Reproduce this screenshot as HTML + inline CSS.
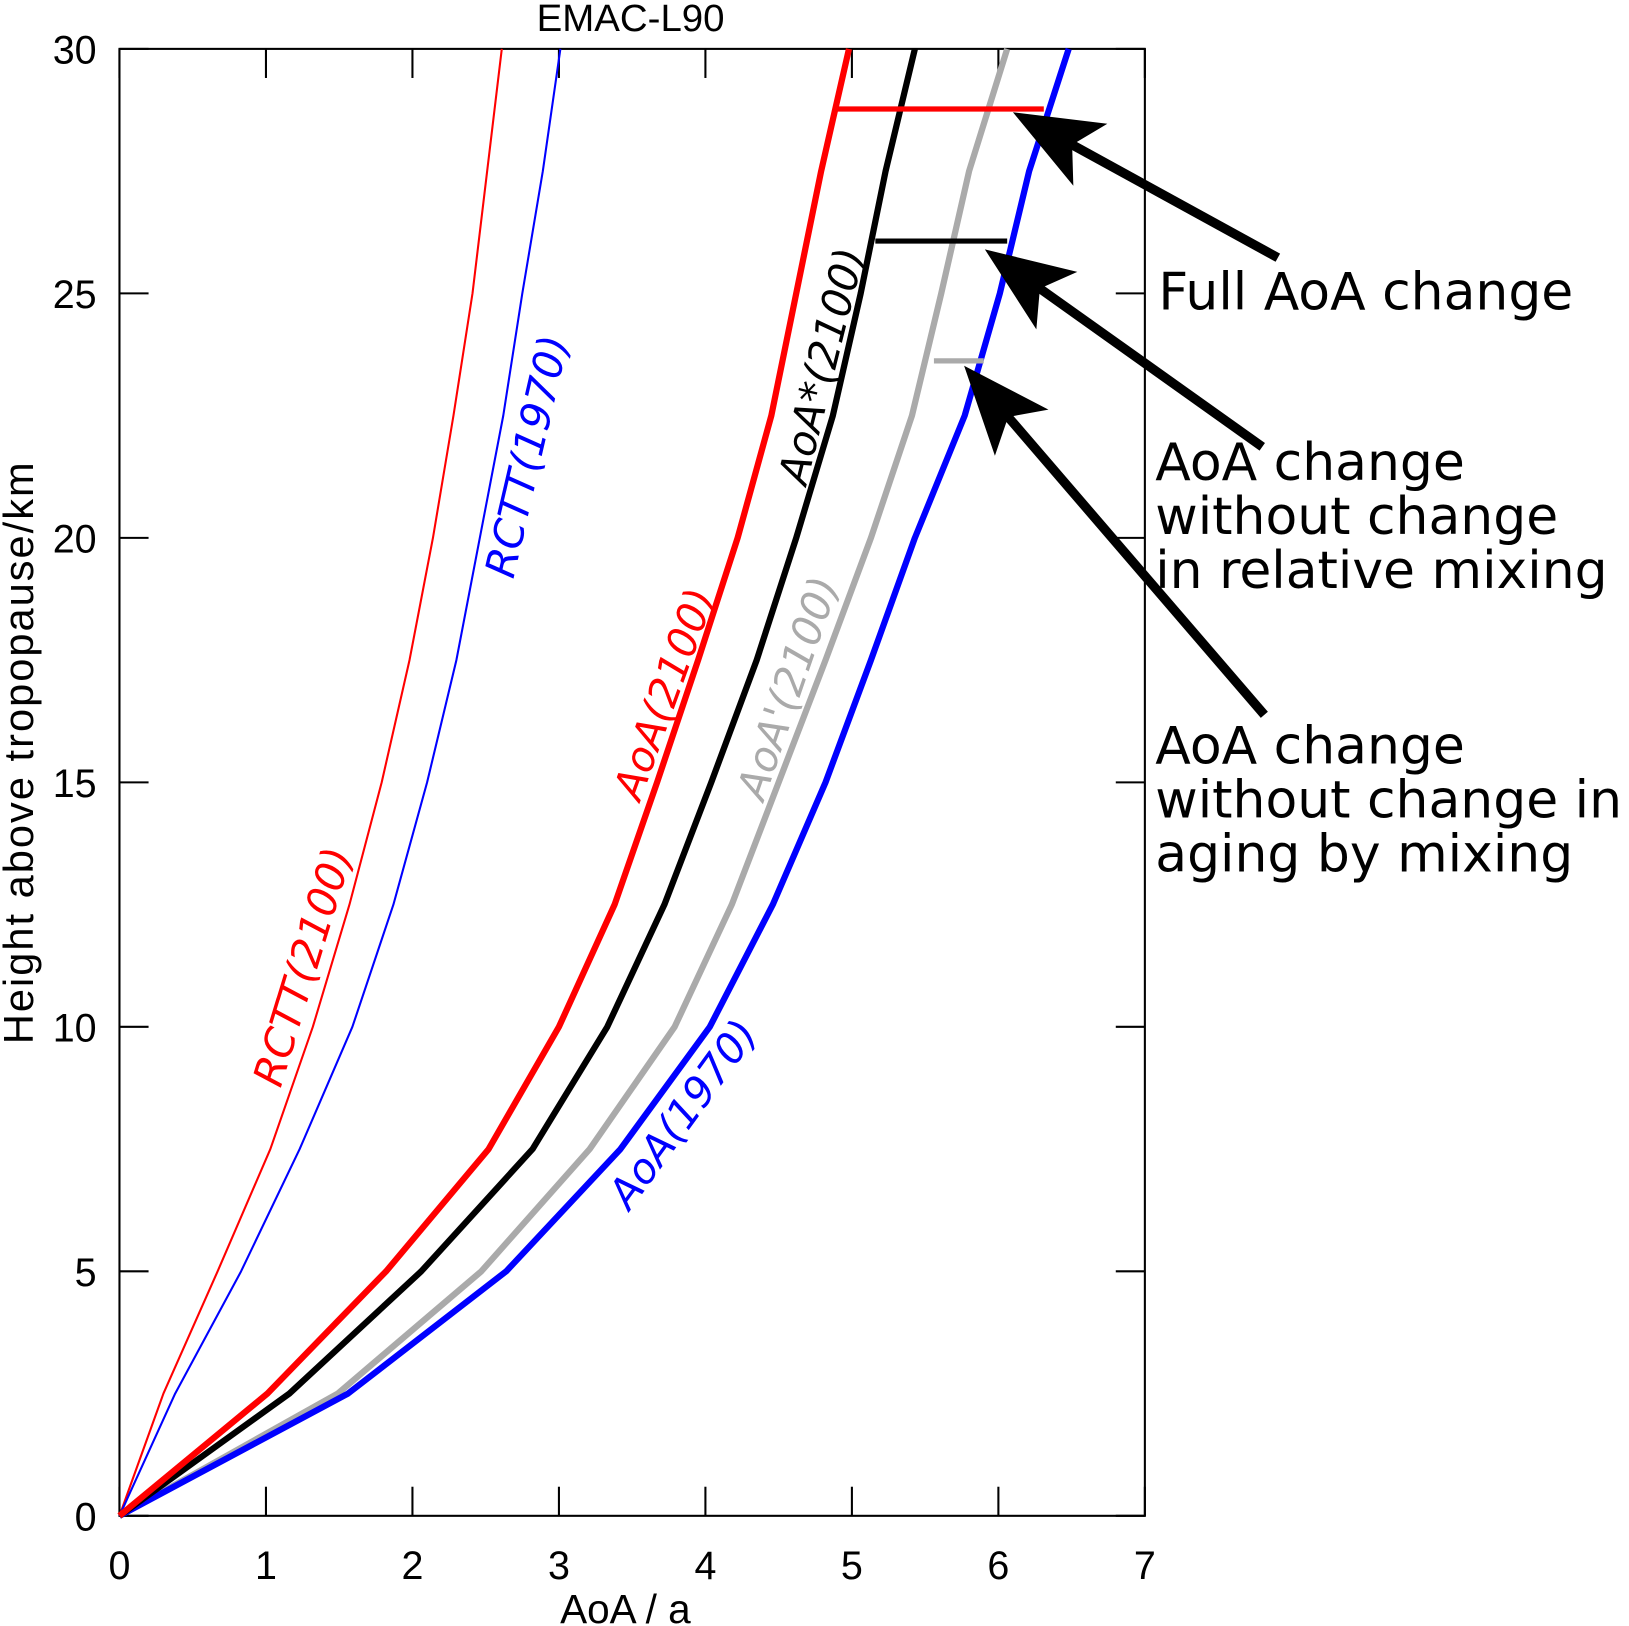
<!DOCTYPE html>
<html><head><meta charset="utf-8"><style>
html,body{margin:0;padding:0;background:#fff}
svg{display:block}
text{font-family:"Liberation Sans",sans-serif}
.dv text,text.dv{font-family:"DejaVu Sans","Liberation Sans",sans-serif}
</style></head><body>
<svg id="chart" width="1629" height="1626" viewBox="0 0 1568 1565" xmlns="http://www.w3.org/2000/svg">
<text x="607" y="30" font-size="37" text-anchor="middle">EMAC-L90</text>
<g id="axes"></g>
<g id="series"></g>
<text x="602" y="1562" font-size="39" text-anchor="middle">AoA / a</text>
<text transform="translate(32,725) rotate(-90)" font-size="40" text-anchor="middle" textLength="560">Height above tropopause/km</text>
<g class="dv" font-size="40" font-style="italic">
<text fill="#f00" transform="translate(270,1048) rotate(-73)">RCTT(2100)</text>
<text fill="#00f" transform="translate(494,558) rotate(-77)">RCTT(1970)</text>
<text fill="#f00" transform="translate(616,772) rotate(-70)">AoA(2100)</text>
<text fill="#000" transform="translate(776,468) rotate(-76)">AoA*(2100)</text>
<text fill="#aaa" transform="translate(735,772) rotate(-71)">AoA'(2100)</text>
<text fill="#00f" transform="translate(606,1166) rotate(-54)">AoA(1970)</text>
</g>
<g class="dv" font-size="50" fill="#000">
<text x="1115" y="298">Full AoA change</text>
<text x="1112" y="462">AoA change<tspan x="1112" dy="52">without change</tspan><tspan x="1112" dy="52">in relative mixing</tspan></text>
<text x="1112" y="735">AoA change<tspan x="1112" dy="52">without change in</tspan><tspan x="1112" dy="52">aging by mixing</tspan></text>
</g>
<g id="arrows"></g>
</svg>
<script>
const heights=[0,2.5,5,7.5,10,12.5,15,17.5,20,22.5,25,27.5,30];
const rctt2100=[0,0.30,0.67,1.03,1.32,1.57,1.79,1.98,2.14,2.28,2.41,2.51,2.61];
const rctt1970=[0,0.38,0.83,1.23,1.59,1.87,2.10,2.30,2.46,2.62,2.75,2.89,3.01];
const aoa2100=[0,1.01,1.82,2.52,3.0,3.38,3.67,3.95,4.22,4.45,4.62,4.79,4.98];
const aoaStar2100=[0,1.16,2.06,2.82,3.33,3.72,4.04,4.35,4.62,4.87,5.06,5.23,5.43];
const aoaPrime2100=[0,1.49,2.47,3.21,3.79,4.18,4.50,4.82,5.13,5.41,5.61,5.80,6.06];
const aoa1970=[0,1.56,2.64,3.42,4.03,4.46,4.82,5.13,5.43,5.77,6.01,6.21,6.48];
const xTicks=[0,1,2,3,4,5,6,7];
const yTicks=[0,5,10,15,20,25,30];
const diffHeights=[28.77,26.07,23.62];
const diffStart=[4.89,5.16,5.56];
const diffEnd=[6.31,6.06,5.90];
const NS="http://www.w3.org/2000/svg";
const X0=115,X1=1102,Y0=1459,Y1=47;
const sx=v=>X0+(X1-X0)*v/7, sy=v=>Y0-(Y0-Y1)*v/30;
function mk(t,a,p){const e=document.createElementNS(NS,t);for(const k in a)e.setAttribute(k,a[k]);p.appendChild(e);return e;}
const ax=document.getElementById('axes');
const frame=mk('rect',{x:X0,y:Y1,width:X1-X0,height:Y0-Y1,fill:'none',stroke:'#000','stroke-width':2},ax);


xTicks.forEach(v=>{
 const t1=mk('line',{x1:sx(v),x2:sx(v),y1:Y0,y2:Y0-28,stroke:'#000','stroke-width':2},ax);
 
 
 const t2=mk('line',{x1:sx(v),x2:sx(v),y1:Y1,y2:Y1+28,stroke:'#000','stroke-width':2},ax);
 
 
 const l=mk('text',{x:sx(v),y:Y0+61,'font-size':38,'text-anchor':'middle'},ax);l.textContent=v;
 
 
});
yTicks.forEach(v=>{
 const t1=mk('line',{x1:X0,x2:X0+28,y1:sy(v),y2:sy(v),stroke:'#000','stroke-width':2},ax);
 
 
 const t2=mk('line',{x1:X1,x2:X1-28,y1:sy(v),y2:sy(v),stroke:'#000','stroke-width':2},ax);
 
 
 const l=mk('text',{x:X0-22,y:sy(v)+14,'font-size':38,'text-anchor':'end'},ax);l.textContent=v;
 
 
});
const sr=document.getElementById('series');
function line(vals,col,w,name){
 const p=mk('polyline',{points:vals.map((v,i)=>sx(v)+','+sy(heights[i])).join(' '),fill:'none',stroke:col,'stroke-width':w,'stroke-linejoin':'round'},sr);
 
 
}
line(rctt2100,'#f00',2,'rctt-2100-line');
line(rctt1970,'#00f',2,'rctt-1970-line');
line(aoaPrime2100,'#aaa',6,'aoa-prime-2100-line');
line(aoa1970,'#00f',6,'aoa-1970-line');
line(aoaStar2100,'#000',6,'aoa-star-2100-line');
line(aoa2100,'#f00',6,'aoa-2100-line');
const dcol=['#f00','#000','#aaa'];
const dname=['full-change-bar','relative-mixing-bar','aging-mixing-bar'];
diffHeights.forEach((h,i)=>{
 const l=mk('line',{x1:sx(diffStart[i]),x2:sx(diffEnd[i]),y1:sy(h),y2:sy(h),stroke:dcol[i],'stroke-width':5},sr);
 
 
});
const ar=document.getElementById('arrows');
[[1230,248,975,108,'arrow-full-change'],[1215,430,948,240,'arrow-relative-mixing'],[1217,688,928,352,'arrow-aging-mixing']].forEach(a=>{
 const [x1,y1,x2,y2,n]=a;const dx=x2-x1,dy=y2-y1,L=Math.hypot(dx,dy),ux=dx/L,uy=dy/L,px=-uy,py=ux;
 const hl=85,hw=34;const bx=x2-ux*hl,by=y2-uy*hl;
 const g=mk('g',{},ar);
 
 
 mk('line',{x1:x1,y1:y1,x2:bx+ux*40,y2:by+uy*40,stroke:'#000','stroke-width':9},g);
 mk('polygon',{points:`${x2},${y2} ${bx+px*hw},${by+py*hw} ${bx+ux*20},${by+uy*20} ${bx-px*hw},${by-py*hw}`,fill:'#000'},g);
});
</script>
</body></html>
